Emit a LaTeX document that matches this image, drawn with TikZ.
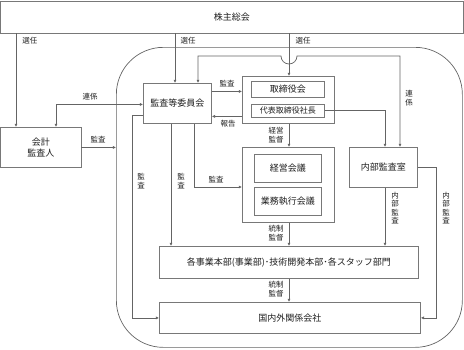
\documentclass[tikz,border=0pt]{standalone}
\usepackage{fontspec}
\setmainfont{Noto Sans CJK JP}
\usetikzlibrary{arrows.meta,calc}
\definecolor{linegray}{RGB}{100,100,100}
\definecolor{boxgray}{RGB}{120,120,120}
\definecolor{txt}{RGB}{30,30,30}
\begin{document}
\begin{tikzpicture}[x=1pt,y=-1pt,
  box/.style={draw=boxgray, line width=0.8pt, inner sep=0pt, anchor=north west,
    font=\fontsize{9}{11}\selectfont, text=txt, align=center, fill=white},
  lbl/.style={font=\fontsize{7.5}{8.4}\selectfont, text=txt, inner sep=0pt, align=center},
  conn/.style={draw=linegray, line width=0.7pt},
  arr/.style={conn, -{Latex[length=3.2pt,width=3.2pt]}},
  darr/.style={conn, {Latex[length=3.2pt,width=3.2pt]}-{Latex[length=3.2pt,width=3.2pt]}}]
\useasboundingbox (0,0) rectangle (464,349);
% group frame
\node[draw=linegray, line width=0.7pt, rounded corners=47pt, inner sep=0pt, anchor=north west,
  minimum width=346, minimum height=300] (grp) at (116,47) {};
% boxes
\node[box, minimum width=462, minimum height=32] (sh) at (0.5,0.5) {株主総会};
\node[box, minimum width=80, minimum height=40] (kaikei) at (0.5,127) {会計\\監査人};
\node[box, minimum width=68, minimum height=40] (kansa) at (143,83) {監査等委員会};
\node[box, minimum width=92, minimum height=47] (tori) at (242,76) {};
\node[box, minimum width=73, minimum height=16] (toriin) at (251,81) {取締役会};
\node[box, minimum width=73, minimum height=13, font=\fontsize{8}{10}\selectfont] (daihyo) at (251,103.5) {代表取締役社長};
\node[box, minimum width=68, minimum height=40] (naibu) at (349,147) {内部監査室};
\node[box, minimum width=92, minimum height=75] (keiei) at (242,147) {};
\node[box, minimum width=67, minimum height=28] (keieik) at (254,154) {経営会議};
\node[box, minimum width=67, minimum height=28] (gyomu) at (254,187) {業務執行会議};
\node[box, minimum width=259, minimum height=32] (jigyo) at (159,246) {各事業本部(事業部)･技術開発本部･各スタッフ部門};
\node[box, minimum width=261, minimum height=31] (kankei) at (159,302) {国内外関係会社};
% helper coordinates
\coordinate (x16) at (16,0);
\coordinate (x56) at (56,0);
\coordinate (x132) at (132,0);
\coordinate (x171) at (171,0);
\coordinate (x175) at (175,0);
\coordinate (x194) at (194,0);
\coordinate (x198) at (198,0);
\coordinate (x289) at (289,0);
\coordinate (x385) at (385,0);
\coordinate (x400) at (400,0);
\coordinate (x436) at (436,0);
\coordinate (hopL) at (281,56);
\coordinate (hopR) at (297,56);
% connectors
\draw[arr] (sh.south -| x16) -- (kaikei.north -| x16);
\node[lbl] at (30,41) {選任};
\draw[arr] (sh.south -| x175) -- (kansa.north -| x175);
\node[lbl] at (188,41) {選任};
\draw[arr] (sh.south -| x289) -- (tori.north -| x289);
\node[lbl] at (303,41) {選任};
\draw[darr] (kansa.north -| x198) -- (x198 |- hopL) -- (hopL) arc[start angle=180, end angle=0, radius=8] -- (hopR) -- (x400 |- hopR) -- (naibu.north -| x400);
\node[lbl] at (409,98) {連\\係};
\draw[darr] (kaikei.north -| x56) |- ($(kansa.west)+(0,1)$);
\node[lbl] at (90,97) {連係};
\draw[arr] (kaikei.east) -- (grp.west |- kaikei.east);
\node[lbl] at (98,140) {監査};
\draw[arr] ($(kansa.east)+(0,-12)$) -- ($(tori.west)+(0,-8.5)$);
\node[lbl] at (227,84) {監査};
\draw[arr] ($(tori.west)+(0,16.5)$) -- ($(kansa.east)+(0,13)$);
\node[lbl] at (228,124) {報告};
\draw[arr] (daihyo.east) -| (naibu.north -| x385);
\draw[arr] (tori.south -| x289) -- (keiei.north -| x289);
\node[lbl] at (276,135) {経営\\監督};
\draw[arr] (kansa.south -| x194) |- (keiei.west |- gyomu.north);
\node[lbl] at (216,180) {監査};
\draw[arr] (kansa.south -| x171) -- (jigyo.north -| x171);
\node[lbl] at (181,181) {監\\査};
\draw[arr] ($(kansa.west)+(0,12)$) -| (x132 |- kankei.west) -- (kankei.west);
\node[lbl] at (141,181) {監\\査};
\draw[arr] (keiei.south -| x289) -- (jigyo.north -| x289);
\node[lbl] at (276,233) {統制\\監督};
\draw[arr] (jigyo.south -| x289) -- (kankei.north -| x289);
\node[lbl] at (276,289) {統制\\監督};
\draw[arr] (naibu.south -| x385) -- (jigyo.north -| x385);
\node[lbl] at (395,208) {内\\部\\監\\査};
\draw[arr] (naibu.east) -| (x436 |- kankei.east) -- (kankei.east);
\node[lbl] at (446,208) {内\\部\\監\\査};
\end{tikzpicture}
\end{document}
